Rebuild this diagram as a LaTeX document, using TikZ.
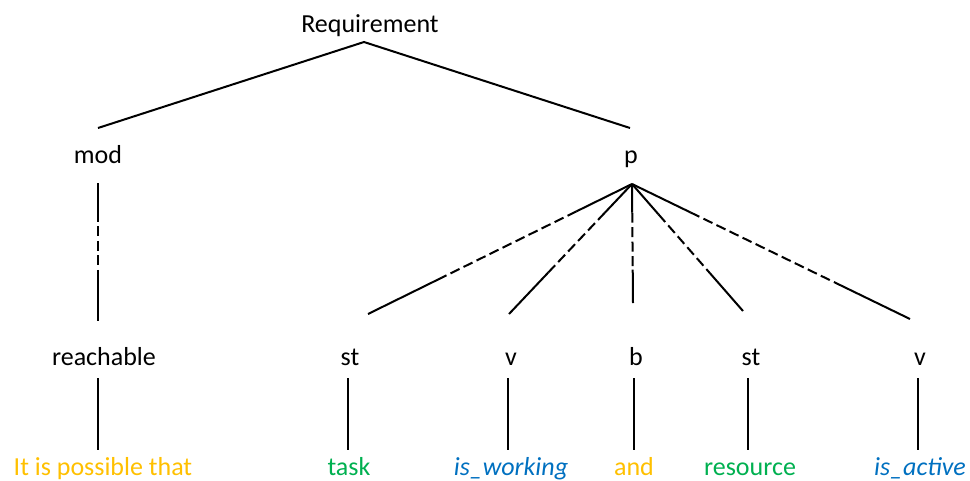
\documentclass[tikz,border=0pt]{standalone}
\usepackage{fontspec}
\setmainfont{Carlito}
\usetikzlibrary{calc}
\definecolor{cgold}{HTML}{FFC000}
\definecolor{cgreen}{HTML}{00B050}
\definecolor{cblue}{HTML}{0070C0}
\newcommand\mixline[4]{%
  \draw[edge] (#1) -- ($(#1)!#3!(#2)$);
  \draw[edge,dash pattern=on 10pt off 4.5pt] ($(#1)!#3!(#2)$) -- ($(#1)!#4!(#2)$);
  \draw[edge] ($(#1)!#4!(#2)$) -- (#2);}
\begin{document}
\begin{tikzpicture}[x=1pt,y=-1pt,
  lab/.style={anchor=base,inner sep=0pt,font=\fontsize{26}{30}\selectfont},
  edge/.style={line width=2pt,black}]
\useasboundingbox (0,0) rectangle (970,480);
% text nodes
\node[lab] (req) at (370,32) {Requirement};
\node[lab] (mod) at (98,163) {mod};
\node[lab] (p) at (631,163) {p};
\node[lab] (reach) at (104,365) {reachable};
\node[lab] (st1) at (350,365) {st};
\node[lab] (v1) at (511,365) {v};
\node[lab] (b) at (636,365) {b};
\node[lab] (st2) at (751,365) {st};
\node[lab] (v2) at (920,365) {v};
\node[lab,text=cgold] (w1) at (103,475) {It is possible that};
\node[lab,text=cgreen] (w2) at (349,475) {task};
\node[lab,text=cblue,font=\fontsize{26}{30}\selectfont\itshape] (w3) at (511,475) {is\_working};
\node[lab,text=cgold] (w4) at (634,475) {and};
\node[lab,text=cgreen] (w5) at (750,475) {resource};
\node[lab,text=cblue,font=\fontsize{26}{30}\selectfont\itshape] (w6) at (920,475) {is\_active};
% connector ends
\coordinate (reqB) at (364,42);
\coordinate (modT) at (98,128);
\coordinate (pT) at (630,128);
\coordinate (modB) at (98,183);
\coordinate (reachT) at (98,321);
\coordinate (pB) at (632,184);
\coordinate (st1T) at (368,314);
\coordinate (v1T) at (509,314);
\coordinate (bT) at (633,303);
\coordinate (st2T) at (743,311);
\coordinate (v2T) at (910,319);
\coordinate (reachB) at (98,378);
\coordinate (w1T) at (98,450);
\coordinate (st1B) at (348,378);
\coordinate (w2T) at (348,450);
\coordinate (v1B) at (508,378);
\coordinate (w3T) at (508,450);
\coordinate (bB) at (634,378);
\coordinate (w4T) at (634,450);
\coordinate (st2B) at (748,378);
\coordinate (w5T) at (748,450);
\coordinate (v2B) at (918,378);
\coordinate (w6T) at (918,450);
% connectors
\draw[edge] (modT) -- (reqB) -- (pT);
\mixline{modB}{reachT}{0.21}{0.63}
\mixline{pB}{st1T}{0.21}{0.72}
\mixline{pB}{v1T}{0.22}{0.68}
\mixline{pB}{bT}{0.24}{0.72}
\mixline{pB}{st2T}{0.24}{0.70}
\mixline{pB}{v2T}{0.21}{0.73}
\draw[edge] (reachB) -- (w1T);
\draw[edge] (st1B) -- (w2T);
\draw[edge] (v1B) -- (w3T);
\draw[edge] (bB) -- (w4T);
\draw[edge] (st2B) -- (w5T);
\draw[edge] (v2B) -- (w6T);
\end{tikzpicture}
\end{document}
